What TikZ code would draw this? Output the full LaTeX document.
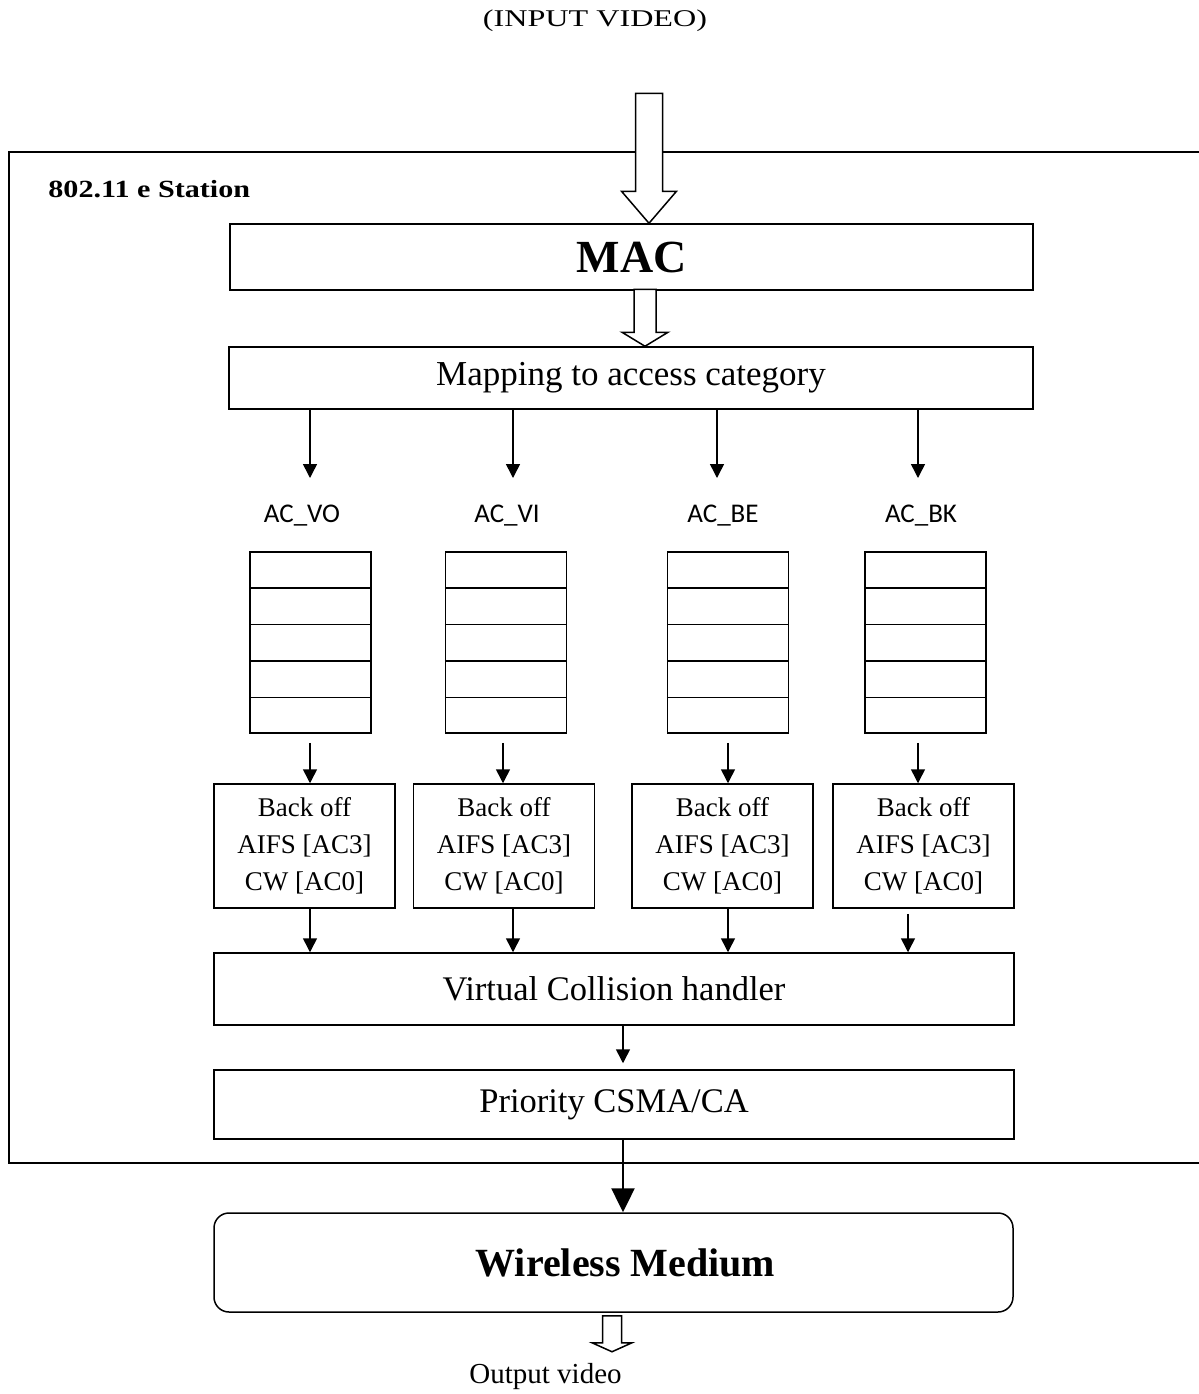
\documentclass[tikz,border=0pt]{standalone}
\usepackage{fontspec}
\setmainfont{Liberation Serif}
\newfontfamily\acfont{Carlito}
\usetikzlibrary{arrows.meta,calc}
\newcommand\hollowarrow[5]{% tip, total length, half shaft, half head, head length
  \draw[hollow] ($(#1)+(-#3,-#2)$) -- ($(#1)+(#3,-#2)$) -- ($(#1)+(#3,-#5)$) -- ($(#1)+(#4,-#5)$) -- (#1) -- ($(#1)+(-#4,-#5)$) -- ($(#1)+(-#3,-#5)$) -- cycle;}
\begin{document}
\begin{tikzpicture}[x=0.5pt,y=-0.5pt,
  blk/.style={draw, line width=0.75pt, inner sep=0pt},
  arr/.style={-{Triangle[width=7pt,length=7pt]}, line width=0.75pt},
  bigarr/.style={-{Triangle[width=11.5pt,length=12pt]}, line width=1.2pt},
  hollow/.style={draw, fill=white, line width=0.75pt, line join=miter},
  queue/.style={blk, minimum width=60.5pt, minimum height=90.5pt},
  backoff/.style={blk, minimum width=90.5pt, minimum height=62pt, align=center, font=\fontsize{13.5}{18.5}\selectfont},
  wide/.style={blk, minimum width=400pt, font=\fontsize{17.25}{20}\selectfont},
  aclab/.style={inner sep=0pt, font=\acfont\fontsize{13.5}{16}\selectfont}
]
\useasboundingbox (0,0) rectangle (1199,1394);

% title
\node[inner sep=0pt, font=\fontsize{12}{14}\selectfont] (title) at (595,21) {\scalebox{1.34}[1]{(INPUT VIDEO)}};

% station frame
\draw[line width=0.75pt] (1199,152) -- (9,152) -- (9,1163) -- (1199,1163);
\node[anchor=west, inner sep=0pt, font=\fontsize{12.35}{14}\selectfont\bfseries] (station) at (48,189) {\scalebox{1.22}[1]{802.11 e Station}};

% main boxes
\node[blk, minimum width=401.5pt, minimum height=33pt, font=\fontsize{23}{27}\selectfont\bfseries] (mac) at (631.5,257) {MAC};
\node[blk, minimum width=402pt, minimum height=31pt, font=\fontsize{17.5}{21}\selectfont] (map) at (631,378) {Mapping to access category};

% AC labels
\node[aclab] (acvo) at (302,516) {AC\_VO};
\node[aclab] (acvi) at (507,516) {AC\_VI};
\node[aclab] (acbe) at (723,516) {AC\_BE};
\node[aclab] (acbk) at (921,516) {AC\_BK};

% queues
\node[queue] (q1) at (310.5,642.5) {};
\node[queue] (q2) at (506,642.5) {};
\node[queue] (q3) at (728,642.5) {};
\node[queue] (q4) at (925.5,642.5) {};
\foreach \q in {q1,q2,q3,q4}{
  \foreach \k in {1,2,3,4}{
    \draw[line width=0.75pt] ($(\q.north west)!\k/5!(\q.south west)$) -- ($(\q.north east)!\k/5!(\q.south east)$);
  }
}

% back off boxes
\node[backoff] (b1) at (304.5,846) {Back off\\AIFS [AC3]\\CW [AC0]};
\node[backoff] (b2) at (504,846) {Back off\\AIFS [AC3]\\CW [AC0]};
\node[backoff] (b3) at (722.5,846) {Back off\\AIFS [AC3]\\CW [AC0]};
\node[backoff] (b4) at (923.5,846) {Back off\\AIFS [AC3]\\CW [AC0]};

\node[wide, minimum height=36pt] (vch) at (614,989) {Virtual Collision handler};
\node[wide, minimum height=34.5pt] (pr) at (614,1104.5) {Priority CSMA/CA};

\node[blk, rounded corners=7.5pt, minimum width=399.5pt, minimum height=49.5pt, font=\fontsize{20}{23}\selectfont\bfseries] (wm) at (613.5,1262.5) {\hspace*{12pt}Wireless Medium};

\node[inner sep=0pt, font=\fontsize{14.5}{17}\selectfont] (out) at (545.5,1377) {Output video};

% column coordinates
\coordinate (m1) at (310,478);
\coordinate (m2) at (513,478);
\coordinate (m3) at (717,478);
\coordinate (m4) at (918,478);
\foreach \n in {1,2,3,4}{
  \draw[arr] (map.south -| m\n) -- (m\n);
}

\coordinate (k1) at (310,0);
\coordinate (k2) at (503,0);
\coordinate (k3) at (728,0);
\coordinate (k4) at (918,0);
\foreach \n in {1,2,3,4}{
  \draw[arr, shorten <=4.5pt] (q\n.south -| k\n) -- (b\n.north -| k\n);
}

\coordinate (j1) at (310,0);
\coordinate (j2) at (513,0);
\coordinate (j3) at (728,0);
\coordinate (j4) at (908,0);
\draw[arr] (b1.south -| j1) -- (vch.north -| j1);
\draw[arr] (b2.south -| j2) -- (vch.north -| j2);
\draw[arr] (b3.south -| j3) -- (vch.north -| j3);
\draw[arr, shorten <=2.5pt] (b4.south -| j4) -- (vch.north -| j4);

\coordinate (cm) at (623,0);
\draw[arr, shorten >=3pt] (vch.south -| cm) -- (pr.north -| cm);
\draw[bigarr] (pr.south -| cm) -- (wm.north -| cm);

% hollow block arrows
\coordinate (inTip) at ($(mac.north)+(17.5,0)$);
\hollowarrow{inTip}{130}{13.5}{27.5}{32}
\coordinate (mTip) at ($(map.north)+(14,0)$);
\hollowarrow{mTip}{57}{11}{23}{14}
\coordinate (oTip) at ($(wm.south)+(-1.5,39)$);
\hollowarrow{oTip}{36}{9.5}{20}{9}
\end{tikzpicture}
\end{document}
